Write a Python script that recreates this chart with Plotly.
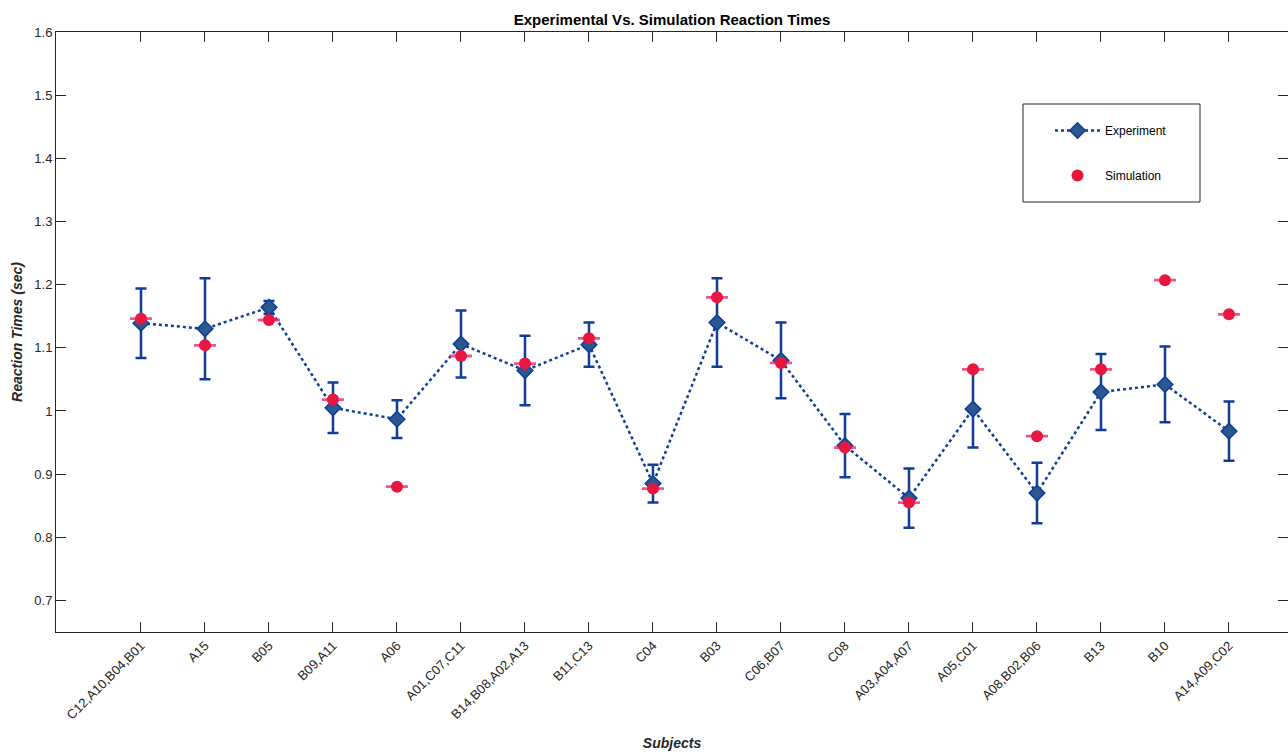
import plotly.graph_objects as go

subjects = ["C12,A10,B04,B01", "A15", "B05", "B09,A11", "A06", "A01,C07,C11",
            "B14,B08,A02,A13", "B11,C13", "C04", "B03", "C06,B07", "C08",
            "A03,A04,A07", "A05,C01", "A08,B02,B06", "B13", "B10", "A14,A09,C02"]
exp_mean = [1.139, 1.130, 1.164, 1.005, 0.987, 1.106, 1.064, 1.105, 0.885, 1.140,
            1.080, 0.945, 0.862, 1.003, 0.870, 1.030, 1.042, 0.968]
exp_err = [0.055, 0.080, 0.010, 0.040, 0.030, 0.053, 0.055, 0.035, 0.030, 0.070,
           0.060, 0.050, 0.047, 0.061, 0.048, 0.060, 0.060, 0.047]
sim_mean = [1.146, 1.104, 1.144, 1.018, 0.880, 1.087, 1.075, 1.115, 0.877, 1.180,
            1.076, 0.942, 0.855, 1.066, 0.960, 1.066, 1.207, 1.153]
sim_err = [0.001] * 18
y_ticks = [0.7, 0.8, 0.9, 1.0, 1.1, 1.2, 1.3, 1.4, 1.5, 1.6]
y_tick_text = ["0.7", "0.8", "0.9", "1", "1.1", "1.2", "1.3", "1.4", "1.5", "1.6"]

idx = list(range(len(subjects)))
FONT = "Liberation Sans, Arial, sans-serif"
AX = "#262626"
W, H = 1288, 752
L, R, T, B = 56, 0, 32, 120
PW, PH = W - L - R, H - T - B


def px(x):
    return (x - L) / PW


def py(y):
    return (H - B - y) / PH


fig = go.Figure()
fig.add_trace(go.Scatter(
    x=idx, y=exp_mean, name="Experiment", mode="lines+markers",
    line=dict(color="#0E3D9A", width=2.5, dash="dot"),
    marker=dict(symbol="diamond", size=12, color="#2A5890",
                line=dict(color="#0E3D9A", width=1.5)),
    error_y=dict(type="data", array=exp_err, visible=True,
                 color="#0E3D9A", thickness=2.5, width=5.5),
    legendgroup="a",
))
fig.add_trace(go.Scatter(
    x=idx, y=sim_mean, name="Simulation", mode="markers",
    marker=dict(symbol="circle", size=12, color="#E8173F"),
    error_y=dict(type="data", array=sim_err, visible=True,
                 color="rgba(240,40,110,0.8)", thickness=1.5, width=11),
    legendgroup="b",
))

fig.add_shape(type="rect", xref="paper", yref="paper",
              x0=px(1023), x1=px(1200), y0=py(202), y1=py(104),
              line=dict(color="#262626", width=1), fillcolor="white", layer="below")

fig.update_layout(
    width=W, height=H,
    margin=dict(l=L, r=R, t=T, b=B),
    paper_bgcolor="white", plot_bgcolor="white",
    font=dict(family=FONT, size=12, color=AX),
    title=dict(text="<b>Experimental Vs. Simulation Reaction Times</b>",
               x=0.5, xref="paper", xanchor="center",
               y=1 - 20 / H, yref="container", yanchor="middle",
               font=dict(size=15, color="#000000", family=FONT)),
    showlegend=True,
    legend=dict(x=px(1050), y=py(116),
                xanchor="left", yanchor="top",
                bgcolor="rgba(0,0,0,0)", borderwidth=0,
                font=dict(size=12, color="#000000"),
                tracegroupgap=26, traceorder="grouped",
                itemwidth=45),
    xaxis=dict(
        range=[-1.328, 17.922], tickmode="array", tickvals=idx, ticktext=subjects,
        tickangle=-45, ticks="inside", ticklen=10, tickcolor=AX, tickwidth=1,
        showline=True, linecolor=AX, linewidth=1, mirror="ticks",
        showgrid=False, zeroline=False, automargin=False,
        tickfont=dict(size=13, color=AX),
        title=dict(text="<b><i>Subjects</i></b>", font=dict(size=14, color=AX), standoff=16),
    ),
    yaxis=dict(
        range=[0.65, 1.6], tickmode="array", tickvals=y_ticks, ticktext=y_tick_text,
        ticks="inside", ticklen=10, tickcolor=AX, tickwidth=1,
        showline=True, linecolor=AX, linewidth=1, mirror="ticks",
        showgrid=False, zeroline=False, automargin=False,
        tickfont=dict(size=13, color=AX),
        title=dict(text="<b><i>Reaction Times (sec)</i></b>", font=dict(size=14, color=AX), standoff=8),
    ),
)

fig.write_html("out.html", config={"displayModeBar": False},
               post_script="document.body.style.margin='0';document.body.style.overflow='hidden';")
